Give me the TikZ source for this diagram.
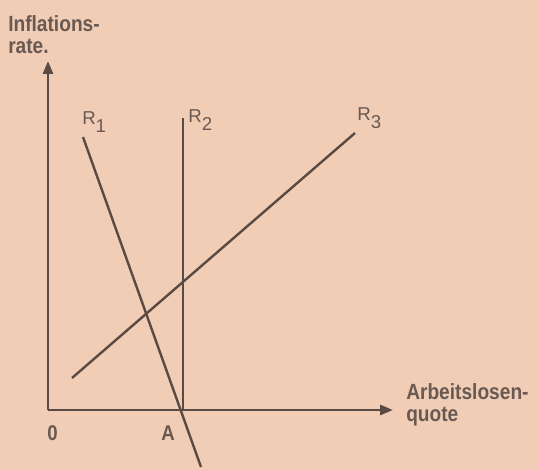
\documentclass[tikz,border=0pt]{standalone}
\usepackage{fontspec}
\setmainfont{Liberation Sans}
\newfontfamily\axisfont{Liberation Sans Bold}[FakeStretch=0.87]
\usetikzlibrary{arrows.meta,calc}
\definecolor{paper}{HTML}{F2CDB6}
\definecolor{ink}{HTML}{5A4A44}
\definecolor{print}{HTML}{685952}
\newcommand{\Rsub}[1]{R\raisebox{-.42em}{#1}}

\begin{document}
\begin{tikzpicture}[
    x=0.75pt, y=-0.75pt,
    >={Triangle[length=9.75pt,width=7.5pt]},
    line cap=butt, line join=miter,
    axis/.style={ink, line width=2.1pt},
    curve/.style={ink, line width=1.8pt},
    lbl/.style={print, font=\axisfont\fontsize{16.5}{18}\selectfont, inner sep=0pt, anchor=base west},
    rlbl/.style={print, font=\fontsize{14}{15}\selectfont, inner sep=0pt, anchor=base west},
]

% ============================================================
% Page (scanned paper tone) and bounding box
% ============================================================
\fill[paper] (0,0) rectangle (538,470);
\useasboundingbox (0,0) rectangle (538,470);

% ============================================================
% Geometry (pixel grid of the scan)
% ============================================================
\coordinate (O)    at (48,410);
\coordinate (Ytip) at (48,61);
\coordinate (Xtip) at (393,410);
\coordinate (A)    at (181,410);

\coordinate (R1top) at (83,137);
\coordinate (R1bot) at (201,467);
\coordinate (R2top) at (183,118);
\coordinate (R2bot) at (183,410);
\coordinate (R3bot) at (72,378);
\coordinate (R3top) at (355,133);

% Axes
\draw[axis,->] (O) -- (Ytip);
\draw[axis,->] (O) -- (Xtip);

% Curves R1, R2, R3
\draw[curve] (R1top) -- (R1bot);
\draw[curve] (R2top) -- (R2bot);
\draw[curve] (R3bot) -- (R3top);

% Axis labels
\node[lbl] (ylab1) at (8,32)    {Inflations-};
\node[lbl] (ylab2) at (8,54)    {rate.};
\node[lbl] (xlab1) at (406,399) {Arbeitslosen-};
\node[lbl] (xlab2) at (406,421) {quote};
\node[lbl, font=\axisfont\fontsize{16}{18}\selectfont] (zero) at (47,440)  {0};
\node[lbl, font=\axisfont\fontsize{16}{18}\selectfont] (Alab) at (161,440) {A};

% Curve labels
\node[rlbl] (R1lab) at (82,125)  {\Rsub{1}};
\node[rlbl] (R2lab) at (188,123) {\Rsub{2}};
\node[rlbl] (R3lab) at (357,121) {\Rsub{3}};

\end{tikzpicture}
\end{document}
